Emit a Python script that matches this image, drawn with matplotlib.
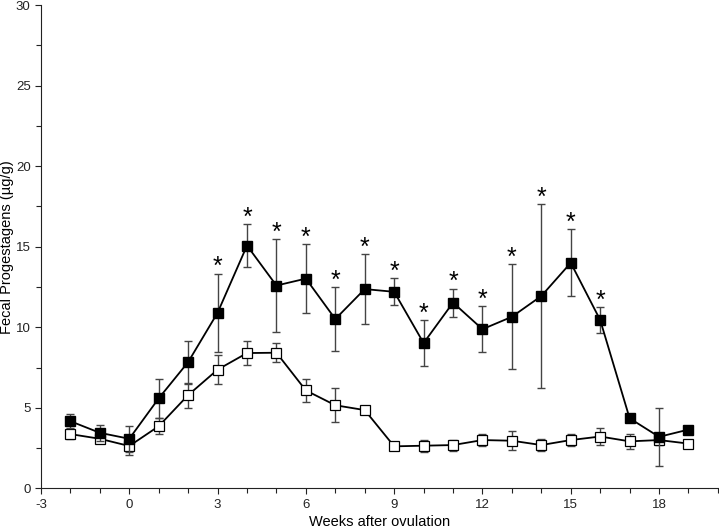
import matplotlib.pyplot as plt
from matplotlib.ticker import MultipleLocator, FuncFormatter

plt.rcParams['font.family'] = ['Liberation Sans', 'DejaVu Sans']

# Weeks relative to ovulation
weeks = list(range(-2, 20))

# Filled squares (mean, SE)
filled = [4.17, 3.45, 3.08, 5.59, 7.84, 10.9, 15.07, 12.59, 13.02, 10.51, 12.37,
          12.2, 9.02, 11.53, 9.88, 10.65, 11.94, 14.0, 10.45, 4.35, 3.2, 3.65]
filled_se = [0.42, 0.5, 0.82, 1.2, 1.33, 2.43, 1.35, 2.9, 2.14, 2.0, 2.15,
             0.83, 1.44, 0.87, 1.41, 3.26, 5.7, 2.08, 0.8, 0.2, 1.8, 0.0]

# Open squares (mean, SE)
open_ = [3.37, 3.08, 2.63, 3.86, 5.79, 7.37, 8.4, 8.42, 6.08, 5.16, 4.86,
         2.61, 2.65, 2.69, 3.0, 2.96, 2.69, 3.0, 3.22, 2.92, 3.0, 2.78]
open_se = [0.3, 0.15, 0.55, 0.5, 0.77, 0.88, 0.74, 0.6, 0.72, 1.05, 0.15,
           0.1, 0.36, 0.34, 0.36, 0.58, 0.38, 0.38, 0.55, 0.45, 0.3, 0.0]

# Weeks marked as significantly different
sig_weeks = [3, 4, 5, 6, 7, 8, 9, 10, 11, 12, 13, 14, 15, 16]

fig = plt.figure(figsize=(7.19, 5.28), dpi=100)
ax = fig.add_axes([0.057, 0.075, 0.9415, 0.9155])

ax.errorbar(weeks, open_, yerr=open_se, fmt='none', ecolor='#444444',
            elinewidth=1, capsize=3.2, capthick=1, zorder=2)
ax.plot(weeks, open_, color='black', lw=1.3, marker='s', markersize=7.5,
        markerfacecolor='white', markeredgecolor='black', markeredgewidth=0.9,
        zorder=3)

ax.errorbar(weeks, filled, yerr=filled_se, fmt='none', ecolor='#444444',
            elinewidth=1, capsize=3.2, capthick=1, zorder=4)
ax.plot(weeks, filled, color='black', lw=1.3, marker='s', markersize=7.8,
        markerfacecolor='black', markeredgecolor='black', zorder=5)

# significance stars above the upper error bar
for w in sig_weeks:
    i = weeks.index(w)
    ax.annotate('*', (w, filled[i] + filled_se[i]), xytext=(0, -0.5),
                textcoords='offset points', ha='center', va='baseline',
                fontsize=18)

ax.set_xlim(-3, 20)
ax.set_ylim(0, 30)
ax.xaxis.set_major_locator(MultipleLocator(3))
ax.xaxis.set_minor_locator(MultipleLocator(1))
ax.yaxis.set_major_locator(MultipleLocator(5))
ax.yaxis.set_minor_locator(MultipleLocator(2.5))
ax.xaxis.set_major_formatter(FuncFormatter(lambda v, p: '%d' % v))
ax.yaxis.set_major_formatter(FuncFormatter(lambda v, p: '%d' % v))

ax.tick_params(which='major', direction='out', length=4, width=0.8,
               labelsize=9.5, colors='#222222')
ax.tick_params(which='minor', direction='out', length=3.5, width=0.8,
               colors='#222222')

for side in ['top', 'right']:
    ax.spines[side].set_visible(False)
for side in ['left', 'bottom']:
    ax.spines[side].set_linewidth(0.8)
    ax.spines[side].set_color('#222222')

ax.set_xlabel('Weeks after ovulation', fontsize=10.5, labelpad=3)
ax.set_ylabel('Fecal Progestagens (\u00b5g/g)', fontsize=10.5)
ax.yaxis.set_label_coords(-0.04, 0.5)

fig.savefig('out.png', dpi=100)
